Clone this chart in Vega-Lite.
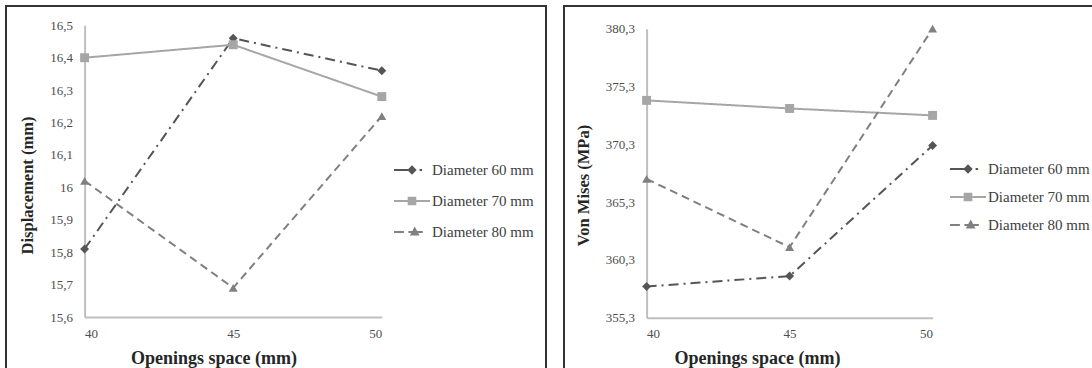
{
  "$schema": "https://vega.github.io/schema/vega-lite/v6.json",
  "padding": {"left": 5, "top": 5, "right": 0, "bottom": 0},
  "spacing": 16,
  "config": {
    "font": "Liberation Serif",
    "view": {"stroke": "#333333", "strokeWidth": 2},
    "axis": {
      "domainColor": "#bfbfbf",
      "domainWidth": 2,
      "ticks": false,
      "tickSize": 0,
      "grid": false,
      "labelFont": "Liberation Serif",
      "labelFontSize": 13,
      "labelColor": "#4d4d4d",
      "titleFont": "Liberation Serif",
      "titleFontWeight": "bold",
      "titleColor": "#262626"
    },
    "legend": {
      "labelFont": "Liberation Serif",
      "labelFontSize": 15,
      "labelColor": "#404040",
      "padding": 0
    },
    "point": {"filled": true, "size": 80, "opacity": 1}
  },
  "resolve": {
    "scale": {"color": "independent", "x": "independent", "y": "independent", "strokeDash": "independent"},
    "legend": {"color": "independent", "strokeDash": "independent"}
  },
  "hconcat": [
    {
      "width": 540,
      "height": 370,
      "data": {
        "values": [
          {"x": 40, "y": 15.81, "series": "Diameter 60 mm"},
          {"x": 45, "y": 16.46, "series": "Diameter 60 mm"},
          {"x": 50, "y": 16.36, "series": "Diameter 60 mm"},
          {"x": 40, "y": 16.40, "series": "Diameter 70 mm"},
          {"x": 45, "y": 16.44, "series": "Diameter 70 mm"},
          {"x": 50, "y": 16.28, "series": "Diameter 70 mm"},
          {"x": 40, "y": 16.02, "series": "Diameter 80 mm"},
          {"x": 45, "y": 15.69, "series": "Diameter 80 mm"},
          {"x": 50, "y": 16.22, "series": "Diameter 80 mm"}
        ]
      },
      "layer": [
        {
          "mark": {"type": "line", "strokeWidth": 2},
          "encoding": {
            "x": {
              "field": "x", "type": "quantitative",
              "scale": {"domain": [40, 50], "range": [78.6, 375.8], "nice": false, "zero": false},
              "axis": {
                "values": [40, 45, 50], "format": "d", "offset": -59, "labelPadding": 10,
                "title": "Openings space (mm)", "titleFontSize": 18, "titleX": 207.5, "titleY": 46,
                "titleBaseline": "alphabetic", "titleAlign": "center"
              }
            },
            "y": {
              "field": "y", "type": "quantitative",
              "scale": {"domain": [15.6, 16.5], "range": [311, 19.3], "nice": false, "zero": false},
              "axis": {
                "values": [15.6, 15.7, 15.8, 15.9, 16.0, 16.1, 16.2, 16.3, 16.4, 16.5],
                "labelExpr": "replace(format(datum.value, '.3~r'), '.', ',')",
                "offset": -78.6, "labelPadding": 12,
                "title": "Displacement (mm)", "titleFontSize": 16.5, "titleX": -57.6, "titleY": 179,
                "titleBaseline": "middle", "titleAlign": "center", "titleAngle": -90
              }
            },
            "color": {
              "field": "series", "type": "nominal",
              "scale": {"domain": ["Diameter 60 mm", "Diameter 70 mm", "Diameter 80 mm"], "range": ["#555555", "#a6a6a6", "#808080"]},
              "legend": {
                "orient": "none", "legendX": 388, "legendY": 146, "title": null,
                "symbolSize": 1296, "rowPadding": 5, "labelOffset": 2,
                "encode": {
                  "symbols": {
                    "update": {
                      "shape": {"signal": "datum.value === 'Diameter 60 mm' ? 'M-1,-0.06H-0.2V0.06H-1Z M0,-0.26L0.26,0L0,0.26L-0.26,0Z M0.42,-0.06H0.56V0.06H0.42Z' : datum.value === 'Diameter 70 mm' ? 'M-1,-0.06H1V0.06H-1Z M-0.24,-0.24H0.24V0.24H-0.24Z' : 'M-1,-0.06H-0.45V0.06H-1Z M-0.2,-0.06H0.6V0.06H-0.2Z M0.15,-0.3L0.42,0.2H-0.12Z'"},
                      "fill": {"signal": "datum.value === 'Diameter 60 mm' ? '#555555' : datum.value === 'Diameter 70 mm' ? '#a6a6a6' : '#808080'"},
                      "stroke": {"value": "transparent"},
                      "strokeWidth": {"value": 0},
                      "strokeDash": {"value": [1, 0]},
                      "opacity": {"value": 1},
                      "size": {"value": 1296}
                    }
                  }
                }
              }
            },
            "strokeDash": {
              "field": "series", "type": "nominal",
              "scale": {"domain": ["Diameter 60 mm", "Diameter 70 mm", "Diameter 80 mm"], "range": [[10, 5, 2, 5], [1, 0], [8, 5]]},
              "legend": null
            }
          }
        },
        {
          "transform": [{"filter": "datum.series === 'Diameter 60 mm'"}],
          "mark": {"type": "point", "shape": "diamond", "color": "#555555"},
          "encoding": {"x": {"field": "x", "type": "quantitative"}, "y": {"field": "y", "type": "quantitative"}}
        },
        {
          "transform": [{"filter": "datum.series === 'Diameter 70 mm'"}],
          "mark": {"type": "point", "shape": "square", "color": "#a6a6a6"},
          "encoding": {"x": {"field": "x", "type": "quantitative"}, "y": {"field": "y", "type": "quantitative"}}
        },
        {
          "transform": [{"filter": "datum.series === 'Diameter 80 mm'"}],
          "mark": {"type": "point", "shape": "triangle-up", "color": "#808080"},
          "encoding": {"x": {"field": "x", "type": "quantitative"}, "y": {"field": "y", "type": "quantitative"}}
        }
      ]
    },
    {
      "width": 540,
      "height": 370,
      "data": {
        "values": [
          {"x": 40, "y": 358.0, "series": "Diameter 60 mm"},
          {"x": 45, "y": 358.9, "series": "Diameter 60 mm"},
          {"x": 50, "y": 370.2, "series": "Diameter 60 mm"},
          {"x": 40, "y": 374.1, "series": "Diameter 70 mm"},
          {"x": 45, "y": 373.4, "series": "Diameter 70 mm"},
          {"x": 50, "y": 372.8, "series": "Diameter 70 mm"},
          {"x": 40, "y": 367.3, "series": "Diameter 80 mm"},
          {"x": 45, "y": 361.4, "series": "Diameter 80 mm"},
          {"x": 50, "y": 380.3, "series": "Diameter 80 mm"}
        ]
      },
      "layer": [
        {
          "mark": {"type": "line", "strokeWidth": 2},
          "encoding": {
            "x": {
              "field": "x", "type": "quantitative",
              "scale": {"domain": [40, 50], "range": [82.6, 368.6], "nice": false, "zero": false},
              "axis": {
                "values": [40, 45, 50], "format": "d", "offset": -58.3, "labelPadding": 10,
                "title": "Openings space (mm)", "titleFontSize": 18, "titleX": 193, "titleY": 45.3,
                "titleBaseline": "alphabetic", "titleAlign": "center"
              }
            },
            "y": {
              "field": "y", "type": "quantitative",
              "scale": {"domain": [355.3, 380.3], "range": [311.7, 22.7], "nice": false, "zero": false},
              "axis": {
                "values": [355.3, 360.3, 365.3, 370.3, 375.3, 380.3],
                "labelExpr": "replace(format(datum.value, '.1f'), '.', ',')",
                "offset": -82.6, "labelPadding": 12,
                "title": "Von Mises (MPa)", "titleFontSize": 16.5, "titleX": -63.6, "titleY": 179,
                "titleBaseline": "middle", "titleAlign": "center", "titleAngle": -90
              }
            },
            "color": {
              "field": "series", "type": "nominal",
              "scale": {"domain": ["Diameter 60 mm", "Diameter 70 mm", "Diameter 80 mm"], "range": ["#555555", "#a6a6a6", "#808080"]},
              "legend": {
                "orient": "none", "legendX": 386, "legendY": 145, "title": null,
                "symbolSize": 1296, "rowPadding": 2, "labelOffset": 2,
                "encode": {
                  "symbols": {
                    "update": {
                      "shape": {"signal": "datum.value === 'Diameter 60 mm' ? 'M-1,-0.06H-0.2V0.06H-1Z M0,-0.26L0.26,0L0,0.26L-0.26,0Z M0.42,-0.06H0.56V0.06H0.42Z' : datum.value === 'Diameter 70 mm' ? 'M-1,-0.06H1V0.06H-1Z M-0.24,-0.24H0.24V0.24H-0.24Z' : 'M-1,-0.06H-0.45V0.06H-1Z M-0.2,-0.06H0.6V0.06H-0.2Z M0.15,-0.3L0.42,0.2H-0.12Z'"},
                      "fill": {"signal": "datum.value === 'Diameter 60 mm' ? '#555555' : datum.value === 'Diameter 70 mm' ? '#a6a6a6' : '#808080'"},
                      "stroke": {"value": "transparent"},
                      "strokeWidth": {"value": 0},
                      "strokeDash": {"value": [1, 0]},
                      "opacity": {"value": 1},
                      "size": {"value": 1296}
                    }
                  }
                }
              }
            },
            "strokeDash": {
              "field": "series", "type": "nominal",
              "scale": {"domain": ["Diameter 60 mm", "Diameter 70 mm", "Diameter 80 mm"], "range": [[10, 5, 2, 5], [1, 0], [8, 5]]},
              "legend": null
            }
          }
        },
        {
          "transform": [{"filter": "datum.series === 'Diameter 60 mm'"}],
          "mark": {"type": "point", "shape": "diamond", "color": "#555555"},
          "encoding": {"x": {"field": "x", "type": "quantitative"}, "y": {"field": "y", "type": "quantitative"}}
        },
        {
          "transform": [{"filter": "datum.series === 'Diameter 70 mm'"}],
          "mark": {"type": "point", "shape": "square", "color": "#a6a6a6"},
          "encoding": {"x": {"field": "x", "type": "quantitative"}, "y": {"field": "y", "type": "quantitative"}}
        },
        {
          "transform": [{"filter": "datum.series === 'Diameter 80 mm'"}],
          "mark": {"type": "point", "shape": "triangle-up", "color": "#808080"},
          "encoding": {"x": {"field": "x", "type": "quantitative"}, "y": {"field": "y", "type": "quantitative"}}
        }
      ]
    }
  ]
}
